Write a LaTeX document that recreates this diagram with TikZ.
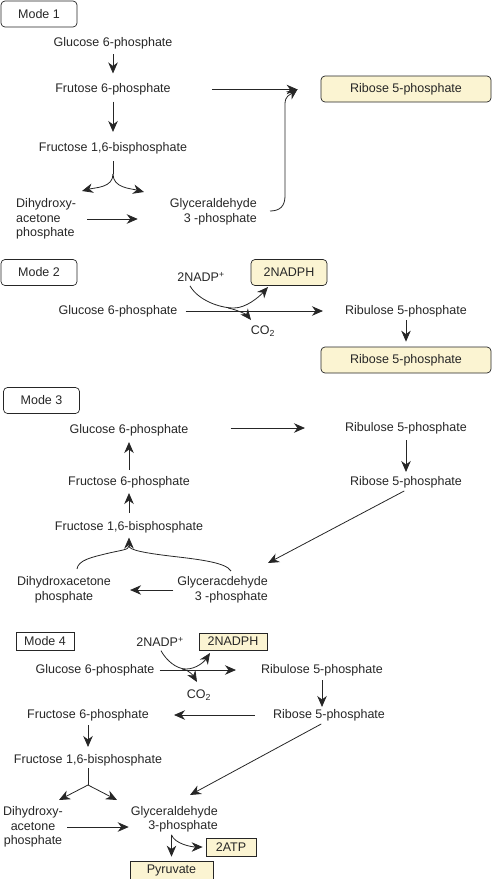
\documentclass[tikz,border=0pt]{standalone}
\usepackage{fontspec}
\setmainfont{Liberation Sans}
\usepackage{xcolor}
\usetikzlibrary{arrows.meta,calc}
\definecolor{ink}{HTML}{262626}
\definecolor{cream}{HTML}{FBF4D2}
\tikzset{>={Stealth[length=11pt,width=9.5pt,inset=3.5pt]}}
\tikzset{
  txt/.style={inner sep=2pt, text=ink, font=\fontsize{12.5}{14.5}\selectfont},
  modebox/.style={txt, draw=ink, line width=0.7pt, rounded corners=4pt, minimum width=76pt, minimum height=26pt},
  prodbox/.style={modebox, fill=cream},
  tagbox/.style={txt, draw=ink, line width=0.7pt, minimum width=58pt, minimum height=18pt},
  flatbox/.style={tagbox, fill=cream},
  flow/.style={->, draw=ink, line width=0.8pt},
  stem/.style={draw=ink, line width=0.8pt}
}

\begin{document}
\begin{tikzpicture}[x=1pt,y=1pt]
  \useasboundingbox (0,0) rectangle (492,-879);

  % Mode 1
  \node[modebox] (m1) at (39,-14) {Mode 1};
  \node[txt] (g1) at (113,-43) {Glucose 6-phosphate};
  \node[txt] (f1) at (113,-89.5) {Frutose 6-phosphate};
  \node[txt] (fb1) at (113,-148) {Fructose 1,6-bisphosphate};
  \node[txt, align=left, anchor=west] (dha1) at (14,-219) {Dihydroxy-\\acetone\\phosphate};
  \node[txt, align=right, anchor=east] (gap1) at (259,-212) {Glyceraldehyde\\3 -phosphate};
  \node[prodbox, minimum width=170pt] (rib1) at (406,-89) {Ribose 5-phosphate};
  \coordinate (fork1) at (113,-174);
  \coordinate (dtip1) at (82,-191);
  \coordinate (gtip1) at (144,-192);

  \draw[flow, shorten <=3pt, shorten >=8pt] (g1) -- (f1);
  \draw[flow, shorten <=4pt, shorten >=8pt] (f1) -- (fb1);
  \draw[stem, shorten <=5pt] (fb1) -- (fork1);
  \draw[flow] (fork1) to[out=-90,in=15] (dtip1);
  \draw[flow] (fork1) to[out=-90,in=165] (gtip1);
  \draw[flow, shorten <=9pt, shorten >=30pt] (dha1.east) -- (dha1.east -| gap1.west);
  \draw[flow, shorten <=39pt, shorten >=23pt] (f1.east) -- (f1.east -| rib1.west);
  \draw[flow] ($(gap1.east)+(11,1)$) .. controls +(10,0) and +(0,-10) .. (285,-196)
    -- (285,-104) .. controls +(0,8) and +(-8,-6) .. ($(rib1.west)+(-23,0)$);

  % Mode 2
  \node[modebox] (m2) at (39,-272.5) {Mode 2};
  \node[txt] (nadp2) at (201,-277) {2NADP\textsuperscript{+}};
  \node[prodbox] (nadph2) at (289,-272.5) {2NADPH};
  \node[txt] (g2) at (118,-311) {Glucose 6-phosphate};
  \node[txt] (rbu2) at (406,-311) {Ribulose 5-phosphate};
  \node[txt] (co2) at (263,-331) {CO\textsubscript{2}};
  \node[prodbox, minimum width=170pt] (rib2) at (406,-360) {Ribose 5-phosphate};
  \coordinate (dip2) at (234,-308);
  \coordinate (ntip2) at (268,-287);
  \coordinate (ctip2) at (251,-320);

  \draw[flow, shorten <=6pt, shorten >=20pt] (g2.east) -- (g2.east -| rbu2.west);
  \draw[flow] ($(nadp2.south)+(-11,-2)$) .. controls +(8,-14) and +(-15,0) .. (dip2)
    .. controls +(12,0) and +(-9,-10) .. (ntip2);
  \draw[flow] ($(dip2)+(-6,0)$) .. controls +(10,-2) and +(-4,5) .. (ctip2);
  \draw[flow, shorten <=1pt, shorten >=5pt] (rbu2) -- (rib2);

  % Mode 3
  \node[modebox] (m3) at (41.5,-400.5) {Mode 3};
  \node[txt] (g3) at (129,-430) {Glucose 6-phosphate};
  \node[txt] (rbu3) at (406,-428) {Ribulose 5-phosphate};
  \node[txt] (rib3) at (406,-482) {Ribose 5-phosphate};
  \node[txt] (f3) at (129,-482) {Fructose 6-phosphate};
  \node[txt] (fb3) at (129,-527) {Fructose 1,6-bisphosphate};
  \node[txt, align=center] (dha3) at (64,-590) {Dihydroxacetone\\phosphate};
  \node[txt, align=right, anchor=east] (gap3) at (270,-590) {Glyceracdehyde\\3 -phosphate};
  \coordinate (gtip3) at (268,-563);
  \coordinate (join3) at (129,-546);
  \coordinate (lbrace3) at (77,-569);
  \coordinate (rbrace3) at (231,-571);

  \draw[flow, shorten <=40pt, shorten >=38pt] (g3.east |- rbu3.west) -- (rbu3.west);
  \draw[flow, shorten <=4pt, shorten >=2pt] (rbu3) -- (rib3);
  \draw[flow, shorten <=2pt] (rib3.south) -- (gtip3);
  \draw[flow, shorten <=4pt, shorten >=4pt] (f3) -- (g3);
  \draw[flow, shorten <=6pt, shorten >=3pt] (fb3) -- (f3);
  \draw[stem] (lbrace3) .. controls +(1,9) and +(-12,-3) .. (105,-554)
    .. controls +(16,4) and +(0,-4) .. (join3);
  \draw[stem] (rbrace3) .. controls +(-5,9) and +(25,-3) .. (170,-556)
    .. controls +(-25,3) and +(0,-4) .. (join3);
  \draw[flow, shorten >=2.5pt] (join3) -- (fb3);
  \draw[flow, shorten <=2pt, shorten >=17pt] (gap3.west) -- (gap3.west -| dha3.east);

  % Mode 4
  \node[tagbox] (m4) at (45,-641) {Mode 4};
  \node[txt] (nadp4) at (160,-642) {2NADP\textsuperscript{+}};
  \node[flatbox, minimum width=68pt, minimum height=17pt] (nadph4) at (233,-641.5) {2NADPH};
  \node[txt] (g4) at (95,-670) {Glucose 6-phosphate};
  \node[txt] (rbu4) at (322,-670) {Ribulose 5-phosphate};
  \node[txt] (co4) at (199,-695) {CO\textsubscript{2}};
  \node[txt] (rib4) at (329,-715) {Ribose 5-phosphate};
  \node[txt] (f4) at (88,-715) {Fructose 6-phosphate};
  \node[txt] (fb4) at (88,-760) {Fructose 1,6-bisphosphate};
  \node[txt, align=center] (dha4) at (33,-827) {Dihydroxy-\\acetone\\phosphate};
  \node[txt, align=right, anchor=east] (gap4) at (220,-819.5) {Glyceraldehyde\\3-phosphate};
  \node[flatbox, minimum width=50pt] (atp4) at (231,-847) {2ATP};
  \node[flatbox, minimum width=83pt] (pyr4) at (171.5,-870) {Pyruvate};
  \coordinate (dip4) at (186,-669);
  \coordinate (ntip4) at (210,-653);
  \coordinate (ctip4) at (197,-682);
  \coordinate (fork4) at (88,-785);
  \coordinate (dtip4) at (59,-800);
  \coordinate (gtip4) at (117,-800);
  \coordinate (rtip4) at (190,-795);

  \draw[flow, shorten <=3pt, shorten >=23pt] (g4) -- (rbu4);
  \draw[flow, shorten <=2pt] (nadp4.south) .. controls +(6,-11) and +(-10,0) .. (dip4)
    .. controls +(10,0) and +(-6,-9) .. (ntip4);
  \draw[flow] ($(dip4)+(-4,0)$) .. controls +(8,-1) and +(-3,5) .. (ctip4);
  \draw[flow, shorten <=2pt] (rbu4.south) -- (rbu4.south |- rib4.north);
  \draw[flow, shorten <=16pt, shorten >=23pt] (rib4) -- (f4);
  \draw[flow, shorten <=2pt, shorten >=5pt] (f4) -- (fb4);
  \draw[stem] (fb4) -- (fork4);
  \draw[flow] (fork4) -- (dtip4);
  \draw[flow] (fork4) -- (gtip4);
  \draw[flow, shorten <=2pt] (dha4.east) -- (dha4.east -| gap4.west);
  \draw[flow, shorten <=2pt] ($(rib4.south)+(-6,0)$) -- (rtip4);
  \draw[flow, shorten >=4pt] (pyr4.north |- gap4.south) -- (pyr4.north);
  \draw[flow, shorten >=3pt] (pyr4.north |- gap4.south) .. controls +(3,-9) and +(-14,0) .. (atp4.west);
\end{tikzpicture}
\end{document}
